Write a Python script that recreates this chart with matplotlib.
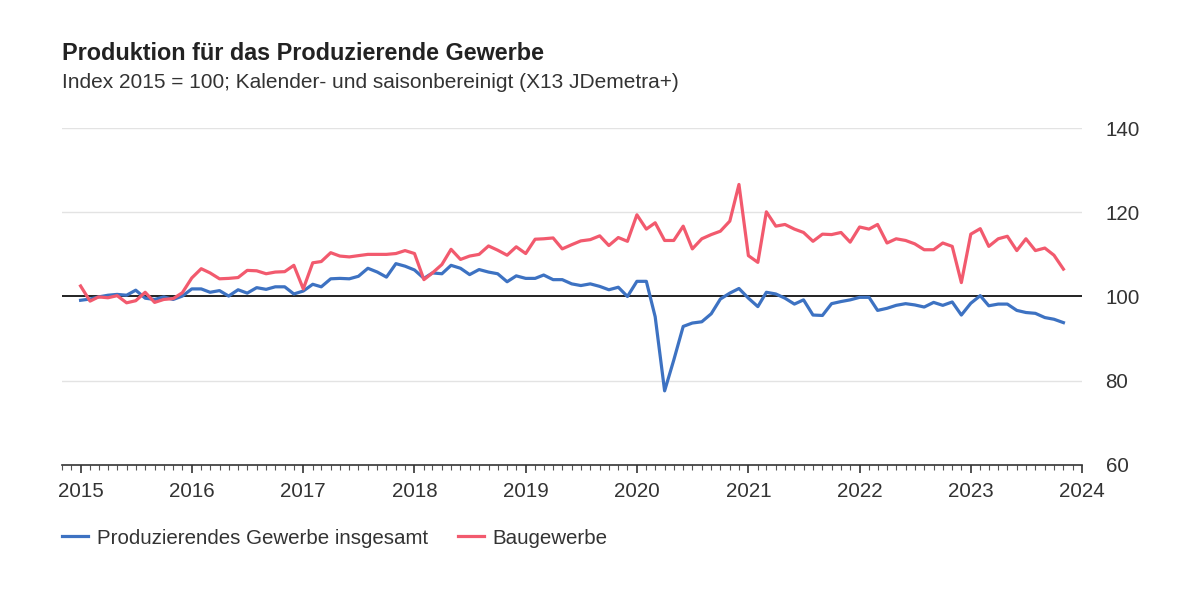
import matplotlib
matplotlib.use("Agg")
import matplotlib.pyplot as plt
import matplotlib.dates as mdates
import numpy as np
import pandas as pd

plt.rcParams['font.family'] = ['Liberation Sans', 'DejaVu Sans']

title = "Produktion für das Produzierende Gewerbe"
subtitle = "Index 2015 = 100; Kalender- und saisonbereinigt (X13 JDemetra+)"
series_names = ["Produzierendes Gewerbe insgesamt", "Baugewerbe"]

months = pd.date_range("2015-01-01", "2023-11-01", freq="MS")

produzierendes = [
    # 2015
    99.1, 99.4, 99.9, 100.3, 100.5, 100.3, 101.5, 99.6, 99.3, 99.9, 99.3, 100.1,
    # 2016
    101.8, 101.8, 101.0, 101.4, 100.1, 101.6, 100.8, 102.1, 101.7, 102.3, 102.3, 100.6,
    # 2017
    101.3, 102.9, 102.3, 104.2, 104.3, 104.2, 104.8, 106.7, 105.8, 104.6, 107.8, 107.2,
    # 2018
    106.3, 104.3, 105.6, 105.4, 107.4, 106.7, 105.2, 106.4, 105.8, 105.4, 103.5, 104.9,
    # 2019
    104.3, 104.3, 105.1, 104.0, 104.0, 103.0, 102.6, 103.0, 102.4, 101.6, 102.2, 100.0,
    # 2020
    103.6, 103.6, 95.2, 77.6, 84.9, 92.9, 93.7, 94.0, 95.9, 99.4, 100.8, 101.9,
    # 2021
    99.6, 97.6, 101.0, 100.6, 99.6, 98.2, 99.2, 95.6, 95.5, 98.3, 98.8, 99.2,
    # 2022
    99.8, 99.8, 96.7, 97.2, 97.9, 98.3, 98.0, 97.5, 98.6, 97.9, 98.7, 95.6,
    # 2023
    98.4, 100.2, 97.8, 98.2, 98.2, 96.7, 96.2, 96.0, 95.0, 94.6, 93.8,
]

baugewerbe = [
    # 2015
    102.5, 98.9, 99.9, 99.7, 100.2, 98.5, 99.0, 101.0, 98.6, 99.3, 99.5, 100.9,
    # 2016
    104.4, 106.6, 105.6, 104.2, 104.3, 104.5, 106.2, 106.1, 105.4, 105.8, 105.9, 107.4,
    # 2017
    101.8, 108.0, 108.3, 110.4, 109.6, 109.4, 109.7, 110.0, 110.0, 110.0, 110.2, 110.9,
    # 2018
    110.2, 104.0, 105.6, 107.6, 111.2, 108.8, 109.6, 110.0, 112.0, 111.0, 109.8, 111.8,
    # 2019
    110.2, 113.6, 113.7, 113.9, 111.3, 112.3, 113.2, 113.5, 114.4, 112.1, 114.0, 113.1,
    # 2020
    119.4, 116.0, 117.5, 113.3, 113.3, 116.7, 111.3, 113.7, 114.7, 115.5, 117.9, 126.6,
    # 2021
    109.7, 108.1, 120.1, 116.7, 117.1, 116.0, 115.2, 113.1, 114.8, 114.7, 115.2, 112.9,
    # 2022
    116.5, 116.0, 117.1, 112.7, 113.7, 113.3, 112.5, 111.1, 111.1, 112.7, 111.9, 103.3,
    # 2023
    114.8, 116.1, 111.9, 113.7, 114.3, 110.9, 113.7, 110.9, 111.5, 109.8, 106.5,
]

y_ticks = [60, 80, 100, 120, 140]
colors = ["#3d72c2", "#f25a6e"]

fig = plt.figure(figsize=(12, 6), dpi=100)
ax = fig.add_axes([62 / 1200, 1 - 465 / 600, 1020 / 1200, 337 / 600])

for yv in y_ticks:
    if yv == 100:
        ax.axhline(yv, color="#222222", lw=1.4, zorder=2)
    elif yv != 60:
        ax.axhline(yv, color="#e3e3e3", lw=1.0, zorder=1)

ax.plot(months, produzierendes, color=colors[0], lw=2.3, label=series_names[0], zorder=3,
        solid_joinstyle="round")
ax.plot(months, baugewerbe, color=colors[1], lw=2.3, label=series_names[1], zorder=3,
        solid_joinstyle="round")

ax.set_ylim(60, 140)
ax.set_xlim(pd.Timestamp("2014-11-01"), pd.Timestamp("2024-01-01"))
ax.set_yticks(y_ticks)
ax.yaxis.tick_right()
ax.tick_params(axis="y", length=0, pad=17, labelsize=14.8, labelcolor="#333333")

ax.xaxis.set_major_locator(mdates.YearLocator())
ax.xaxis.set_major_formatter(mdates.DateFormatter("%Y"))
ax.xaxis.set_minor_locator(mdates.MonthLocator())
ax.tick_params(axis="x", which="major", length=6, width=1.2, color="#333333",
               labelsize=14.8, labelcolor="#333333", pad=6)
ax.tick_params(axis="x", which="minor", length=3.5, width=0.8, color="#555555")

for s in ["top", "left", "right"]:
    ax.spines[s].set_visible(False)
ax.spines["bottom"].set_color("#333333")
ax.spines["bottom"].set_linewidth(1.2)

fig.text(62 / 1200, 1 - 60 / 600, title, fontsize=16.8, fontweight="bold",
         color="#222222", va="baseline", ha="left")
fig.text(62 / 1200, 1 - 88 / 600, subtitle, fontsize=15,
         color="#333333", va="baseline", ha="left")

leg = fig.legend(loc="center left", bbox_to_anchor=(62 / 1200, 1 - 538 / 600),
                 ncol=2, frameon=False, fontsize=14.8, handlelength=1.25,
                 handletextpad=0.45, columnspacing=1.45, borderpad=0, borderaxespad=0)
for t in leg.get_texts():
    t.set_color("#333333")

fig.savefig("out.png", dpi=100)
